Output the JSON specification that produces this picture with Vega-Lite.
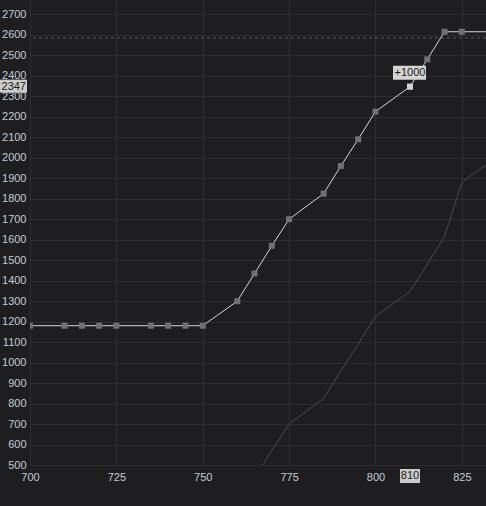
{
  "$schema": "https://vega.github.io/schema/vega-lite/v6.json",
  "width": 456,
  "height": 465,
  "autosize": {"type": "none"},
  "padding": {"left": 30, "top": 0, "right": 0, "bottom": 41},
  "background": "#1e1e21",
  "config": {
    "view": {"stroke": null},
    "font": "Liberation Sans",
    "axis": {
      "gridColor": "#2e2e32",
      "gridWidth": 1,
      "labelColor": "#c4ccd6",
      "labelFontSize": 11,
      "labelFont": "Liberation Sans",
      "ticks": false,
      "domain": false,
      "title": null,
      "labelOverlap": false
    }
  },
  "datasets": {
    "main": [
      {"x": 700, "v": 1180}, {"x": 710, "v": 1180}, {"x": 715, "v": 1180},
      {"x": 720, "v": 1180}, {"x": 725, "v": 1180}, {"x": 735, "v": 1180},
      {"x": 740, "v": 1180}, {"x": 745, "v": 1180}, {"x": 750, "v": 1180},
      {"x": 760, "v": 1300}, {"x": 765, "v": 1435}, {"x": 770, "v": 1570},
      {"x": 775, "v": 1700}, {"x": 785, "v": 1825}, {"x": 790, "v": 1960},
      {"x": 795, "v": 2090}, {"x": 800, "v": 2225}, {"x": 810, "v": 2347},
      {"x": 815, "v": 2480}, {"x": 820, "v": 2615}, {"x": 825, "v": 2615},
      {"x": 835, "v": 2615}
    ],
    "shadow": [
      {"x": 760, "v": 300}, {"x": 765, "v": 435}, {"x": 770, "v": 570},
      {"x": 775, "v": 700}, {"x": 785, "v": 825}, {"x": 790, "v": 960},
      {"x": 795, "v": 1090}, {"x": 800, "v": 1225}, {"x": 810, "v": 1347},
      {"x": 815, "v": 1480}, {"x": 820, "v": 1615}, {"x": 825, "v": 1880},
      {"x": 835, "v": 2000}
    ],
    "level": [{"v": 2585}],
    "cursor": [{"x": 810, "v": 2347, "xlabel": "810", "ylabel": "2347", "delta": "+1000"}]
  },
  "layer": [
    {
      "data": {"name": "shadow"},
      "mark": {"type": "line", "color": "#4a4a4f", "strokeWidth": 1, "clip": true},
      "encoding": {
        "x": {
          "field": "x", "type": "quantitative",
          "scale": {"domain": [700, 832], "nice": false, "zero": false},
          "axis": {"values": [700, 725, 750, 775, 800, 825], "tickCount": 20, "format": "d", "labelFlush": false, "labelOverlap": false, "labelPadding": 6}
        },
        "y": {
          "field": "v", "type": "quantitative",
          "scale": {"domain": [500, 2770], "nice": false, "zero": false},
          "axis": {"values": [500, 600, 700, 800, 900, 1000, 1100, 1200, 1300, 1400, 1500, 1600, 1700, 1800, 1900, 2000, 2100, 2200, 2300, 2400, 2500, 2600, 2700], "tickCount": 40, "format": "d", "labelOverlap": false, "labelFlush": false, "labelPadding": 4}
        }
      }
    },
    {
      "data": {"name": "level"},
      "mark": {"type": "rule", "color": "#5c5c60", "strokeWidth": 1, "strokeDash": [3, 3]},
      "encoding": {"y": {"field": "v", "type": "quantitative"}}
    },
    {
      "data": {"name": "main"},
      "mark": {"type": "line", "color": "#d6d6d6", "strokeWidth": 1, "clip": true},
      "encoding": {
        "x": {"field": "x", "type": "quantitative"},
        "y": {"field": "v", "type": "quantitative"}
      }
    },
    {
      "data": {"name": "main"},
      "mark": {"type": "point", "shape": "square", "filled": true, "size": 36, "color": "#717171", "opacity": 1, "clip": true},
      "encoding": {
        "x": {"field": "x", "type": "quantitative"},
        "y": {"field": "v", "type": "quantitative"}
      }
    },
    {
      "data": {"name": "cursor"},
      "mark": {"type": "point", "shape": "square", "filled": true, "size": 36, "color": "#d2d2d2", "opacity": 1},
      "encoding": {
        "x": {"field": "x", "type": "quantitative"},
        "y": {"field": "v", "type": "quantitative"}
      }
    },
    {
      "data": {"name": "cursor"},
      "mark": {"type": "rect", "color": "#cbcbcb", "xOffset": -30, "x2Offset": -3, "yOffset": -7, "y2Offset": 6},
      "encoding": {
        "x": {"datum": 700, "type": "quantitative"},
        "x2": {"datum": 700},
        "y": {"field": "v", "type": "quantitative"},
        "y2": {"field": "v"}
      }
    },
    {
      "data": {"name": "cursor"},
      "mark": {"type": "text", "color": "#1a1a1a", "fontSize": 11, "align": "right", "baseline": "middle", "dx": -4},
      "encoding": {
        "x": {"datum": 700, "type": "quantitative"},
        "y": {"field": "v", "type": "quantitative"},
        "text": {"field": "ylabel"}
      }
    },
    {
      "data": {"name": "cursor"},
      "mark": {"type": "rect", "color": "#cbcbcb", "xOffset": -10, "x2Offset": 10, "yOffset": 4, "y2Offset": 18},
      "encoding": {
        "x": {"field": "x", "type": "quantitative"},
        "x2": {"field": "x"},
        "y": {"datum": 500, "type": "quantitative"},
        "y2": {"datum": 500}
      }
    },
    {
      "data": {"name": "cursor"},
      "mark": {"type": "text", "color": "#1a1a1a", "fontSize": 11, "align": "center", "baseline": "middle", "dy": 11},
      "encoding": {
        "x": {"field": "x", "type": "quantitative"},
        "y": {"datum": 500, "type": "quantitative"},
        "text": {"field": "xlabel"}
      }
    },
    {
      "data": {"name": "cursor"},
      "mark": {"type": "rect", "color": "#d4d4d4", "xOffset": -17, "x2Offset": 16, "yOffset": -21, "y2Offset": -7},
      "encoding": {
        "x": {"field": "x", "type": "quantitative"},
        "x2": {"field": "x"},
        "y": {"field": "v", "type": "quantitative"},
        "y2": {"field": "v"}
      }
    },
    {
      "data": {"name": "cursor"},
      "mark": {"type": "text", "color": "#1a1a1a", "fontSize": 11, "align": "center", "baseline": "middle", "dy": -14},
      "encoding": {
        "x": {"field": "x", "type": "quantitative"},
        "y": {"field": "v", "type": "quantitative"},
        "text": {"field": "delta"}
      }
    }
  ]
}
